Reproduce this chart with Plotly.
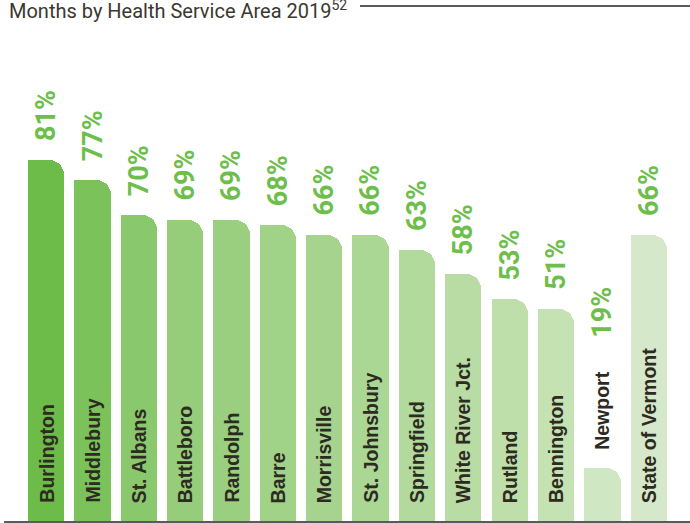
import plotly.graph_objects as go

categories = ["Burlington", "Middlebury", "St. Albans", "Battleboro", "Randolph", "Barre",
              "Morrisville", "St. Johnsbury", "Springfield", "White River Jct.", "Rutland",
              "Bennington", "Newport", "State of Vermont"]
values = [81, 77, 70, 69, 69, 68, 66, 66, 63, 58, 53, 51, 19, 66]
value_labels = [f"{v}%" for v in values]
colors = ["#6DBC4A", "#7BC25B", "#8AC86D", "#96CD7B", "#99CF7F", "#A0D287", "#A6D48E",
          "#ABD794", "#B2DA9C", "#B8DCA3", "#BEDFAA", "#C5E2B3", "#D0E7C3", "#D5E9CA"]

BAR_W = 0.783
Y_MIN, Y_MAX = 8.3, 113.3

fig = go.Figure()
# rounded bar (top corners rounded)
fig.add_trace(go.Bar(x=categories, y=values, width=BAR_W, offset=-BAR_W / 2,
                     marker=dict(color=colors, cornerradius=15, line=dict(width=0)),
                     hoverinfo="skip"))
# left half overlay to keep top-left corner square
fig.add_trace(go.Bar(x=categories, y=values, width=BAR_W / 2 + 0.01, offset=-BAR_W / 2,
                     marker=dict(color=colors, line=dict(width=0)), hoverinfo="skip"))

annotations = []
for i, (c, v, lab) in enumerate(zip(categories, values, value_labels)):
    outside = (c == "Newport")
    annotations.append(dict(
        x=c, y=v, xref="x", yref="y", text=lab, showarrow=False,
        textangle=-90, xanchor="center", yanchor="bottom",
        yshift=128 if outside else 17,
        font=dict(family="Roboto, sans-serif", size=27, color="#6DBE4B", weight="bold")))
    annotations.append(dict(
        x=c, y=v if outside else Y_MIN, xref="x", yref="y", text=c, showarrow=False,
        textangle=-90, xanchor="center", yanchor="bottom", yshift=16,
        font=dict(family="Liberation Sans, Arial, sans-serif", size=19.5,
                  color="#2D2A22", weight="bold")))

annotations.append(dict(
    x=0, y=1, xref="paper", yref="paper", xanchor="left", yanchor="top",
    xshift=3, yshift=5, showarrow=False,
    text="Months by Health Service Area 2019<sup>52</sup>",
    font=dict(family="Roboto, sans-serif", size=20, color="#3A382F")))

fig.update_layout(
    width=690, height=523,
    margin=dict(l=4, r=0, t=0, b=2),
    barmode="overlay", bargap=0,
    showlegend=False,
    plot_bgcolor="white", paper_bgcolor="white",
    xaxis=dict(type="category", range=[-0.910, 13.89], showticklabels=False,
               showgrid=False, zeroline=False, showline=True,
               linecolor="#5A5A5A", linewidth=2, ticks=""),
    yaxis=dict(range=[Y_MIN, Y_MAX], visible=False, showgrid=False, zeroline=False),
    annotations=annotations,
    shapes=[dict(type="line", xref="paper", yref="paper", x0=0.519, x1=1.0,
                 y0=0.9885, y1=0.9885, line=dict(color="#5A5A5A", width=2))],
)

fig.write_html("out.html")
